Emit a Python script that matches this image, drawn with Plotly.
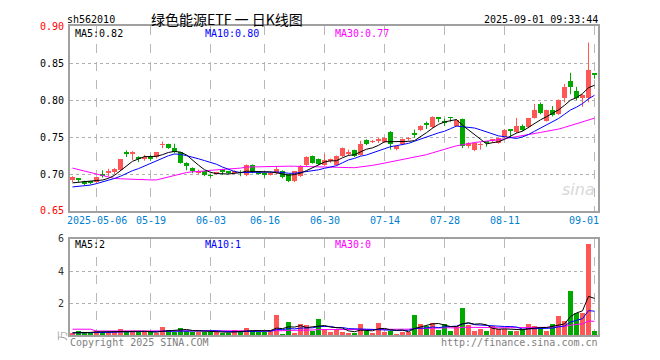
import plotly.graph_objects as go
import pandas as pd

# ---------------- data ----------------
dates = ["2025-04-25", "2025-04-28", "2025-04-29", "2025-04-30",
         "2025-05-06", "2025-05-07", "2025-05-08", "2025-05-09", "2025-05-12", "2025-05-13",
         "2025-05-14", "2025-05-15", "2025-05-16", "2025-05-19", "2025-05-20", "2025-05-21",
         "2025-05-22", "2025-05-23", "2025-05-26", "2025-05-27", "2025-05-28", "2025-05-29",
         "2025-05-30", "2025-06-03", "2025-06-04", "2025-06-05", "2025-06-06", "2025-06-09",
         "2025-06-10", "2025-06-11", "2025-06-12", "2025-06-13", "2025-06-16", "2025-06-17",
         "2025-06-18", "2025-06-19", "2025-06-20", "2025-06-23", "2025-06-24", "2025-06-25",
         "2025-06-26", "2025-06-27", "2025-06-30", "2025-07-01", "2025-07-02", "2025-07-03",
         "2025-07-04", "2025-07-07", "2025-07-08", "2025-07-09", "2025-07-10", "2025-07-11",
         "2025-07-14", "2025-07-15", "2025-07-16", "2025-07-17", "2025-07-18", "2025-07-21",
         "2025-07-22", "2025-07-23", "2025-07-24", "2025-07-25", "2025-07-28", "2025-07-29",
         "2025-07-30", "2025-07-31", "2025-08-01", "2025-08-04", "2025-08-05", "2025-08-06",
         "2025-08-07", "2025-08-08", "2025-08-11", "2025-08-12", "2025-08-13", "2025-08-14",
         "2025-08-15", "2025-08-18", "2025-08-19", "2025-08-20", "2025-08-21", "2025-08-22",
         "2025-08-25", "2025-08-26", "2025-08-27", "2025-08-28", "2025-08-29", "2025-09-01"]

opens = [0.691, 0.6925, 0.690, 0.6882, 0.689, 0.6985, 0.701, 0.702, 0.705, 0.7275,
         0.727, 0.723, 0.721, 0.724, 0.723, 0.739, 0.740, 0.735, 0.729, 0.715,
         0.708, 0.702, 0.703, 0.6975, 0.700, 0.706, 0.703, 0.702, 0.7015, 0.698,
         0.712, 0.703, 0.701, 0.699, 0.701, 0.704, 0.699, 0.690, 0.697, 0.712,
         0.724, 0.720, 0.712, 0.718, 0.712, 0.724, 0.728, 0.732, 0.726, 0.746,
         0.743, 0.745, 0.743, 0.757, 0.733, 0.740, 0.747, 0.754, 0.759, 0.7675,
         0.763, 0.777, 0.770, 0.776, 0.765, 0.774, 0.738, 0.732, 0.739, 0.7425,
         0.745, 0.742, 0.750, 0.7595, 0.756, 0.765, 0.763, 0.775, 0.794, 0.772,
         0.786, 0.781, 0.803, 0.825, 0.812, 0.803, 0.803, 0.8345]
highs = [0.697, 0.694, 0.691, 0.689, 0.696, 0.705, 0.707, 0.708, 0.720, 0.732,
         0.731, 0.724, 0.726, 0.726, 0.730, 0.744, 0.741, 0.741, 0.730, 0.716,
         0.709, 0.706, 0.704, 0.700, 0.703, 0.707, 0.704, 0.705, 0.705, 0.713,
         0.713, 0.704, 0.702, 0.703, 0.711, 0.705, 0.699, 0.704, 0.712, 0.724,
         0.725, 0.721, 0.727, 0.721, 0.725, 0.736, 0.733, 0.733, 0.745, 0.747,
         0.746, 0.749, 0.750, 0.758, 0.739, 0.748, 0.750, 0.760, 0.766, 0.771,
         0.778, 0.777, 0.775, 0.777, 0.774, 0.775, 0.743, 0.743, 0.743, 0.744,
         0.747, 0.749, 0.761, 0.760, 0.776, 0.767, 0.776, 0.795, 0.797, 0.787,
         0.792, 0.801, 0.822, 0.837, 0.818, 0.808, 0.878, 0.835]
lows = [0.689, 0.689, 0.685, 0.686, 0.687, 0.695, 0.697, 0.700, 0.704, 0.723,
        0.719, 0.716, 0.718, 0.718, 0.721, 0.735, 0.734, 0.728, 0.714, 0.705,
        0.701, 0.699, 0.697, 0.695, 0.699, 0.699, 0.700, 0.700, 0.697, 0.697,
        0.701, 0.699, 0.695, 0.698, 0.700, 0.694, 0.689, 0.689, 0.696, 0.711,
        0.714, 0.712, 0.711, 0.715, 0.711, 0.723, 0.725, 0.723, 0.725, 0.739,
        0.742, 0.742, 0.742, 0.733, 0.732, 0.739, 0.745, 0.749, 0.758, 0.761,
        0.762, 0.770, 0.765, 0.771, 0.764, 0.735, 0.735, 0.731, 0.733, 0.737,
        0.742, 0.741, 0.749, 0.749, 0.755, 0.758, 0.762, 0.775, 0.781, 0.771,
        0.778, 0.780, 0.797, 0.808, 0.800, 0.791, 0.797, 0.829]
closes = [0.695, 0.692, 0.686, 0.688, 0.695, 0.698, 0.704, 0.706, 0.720, 0.727,
          0.729, 0.720, 0.722, 0.720, 0.729, 0.740, 0.735, 0.729, 0.715, 0.710,
          0.703, 0.703, 0.698, 0.697, 0.702, 0.702, 0.701, 0.703, 0.701, 0.712,
          0.702, 0.700, 0.699, 0.701, 0.706, 0.696, 0.690, 0.703, 0.711, 0.723,
          0.715, 0.713, 0.719, 0.719, 0.724, 0.735, 0.729, 0.724, 0.740, 0.740,
          0.744, 0.746, 0.748, 0.740, 0.738, 0.747, 0.748, 0.753, 0.765, 0.767,
          0.777, 0.774, 0.7695, 0.7755, 0.773, 0.738, 0.742, 0.742, 0.740, 0.742,
          0.746, 0.748, 0.759, 0.759, 0.765, 0.759, 0.775, 0.786, 0.782, 0.786,
          0.780, 0.800, 0.817, 0.817, 0.803, 0.807, 0.840, 0.834]
volumes = [0.15, 0.25, 0.20, 0.15, 0.28, 0.20, 0.20, 0.20, 0.40, 0.20,
           0.20, 0.20, 0.20, 0.20, 0.12, 0.52, 0.33, 0.20, 0.45, 0.27,
           0.20, 0.20, 0.20, 0.20, 0.20, 0.15, 0.15, 0.30, 0.25, 0.45,
           0.27, 0.23, 0.20, 0.27, 1.23, 0.10, 0.80, 0.12, 0.72, 0.63,
           0.27, 1.00, 0.40, 0.20, 0.39, 0.22, 0.13, 0.13, 0.70, 0.27,
           0.13, 0.77, 0.23, 0.27, 0.10, 0.23, 0.23, 1.23, 0.70, 0.60,
           0.77, 0.33, 0.70, 0.27, 0.57, 1.67, 0.65, 0.27, 0.38, 0.27,
           0.55, 0.38, 0.38, 0.27, 0.27, 0.38, 0.70, 0.60, 0.43, 0.27,
           0.70, 1.20, 0.90, 2.74, 1.37, 1.37, 5.71, 0.28]

ma5_head = [0.688, 0.689, 0.690, 0.690]
ma10_head = [0.6825, 0.683, 0.684, 0.685, 0.687, 0.689, 0.692, 0.694, 0.697]
ma30_head = [0.708, 0.706, 0.703, 0.701, 0.699, 0.697, 0.695, 0.694, 0.6935, 0.693,
             0.6925, 0.692, 0.692, 0.692, 0.692, 0.694, 0.697, 0.699, 0.701, 0.702,
             0.703, 0.703, 0.704, 0.705, 0.7055, 0.706, 0.707, 0.7075, 0.708]
vma5_head = [0.15, 0.15, 0.16, 0.17]
vma10_head = [0.14, 0.14, 0.15, 0.15, 0.16, 0.16, 0.17, 0.18, 0.20]
vma30_head = [0.37, 0.37, 0.37, 0.37, 0.26, 0.26, 0.25, 0.25, 0.25, 0.25,
              0.25, 0.25, 0.25, 0.25, 0.24, 0.24, 0.24, 0.24, 0.24, 0.24,
              0.24, 0.24, 0.24, 0.24, 0.24, 0.24, 0.24, 0.24, 0.24]

tick_idx = [4, 13, 23, 32, 42, 52, 62, 72, 87]
tick_labels = ["2025-05-06", "05-19", "06-03", "06-16", "06-30", "07-14", "07-28", "08-11", "09-01"]
price_ticks = [0.65, 0.70, 0.75, 0.80, 0.85, 0.90]
price_tick_colors = ["#ff0000", "#000000", "#000000", "#000000", "#000000", "#ff0000"]
vol_ticks = [2, 4, 6]

# ---------------- derived ----------------
def moving(values, n, head):
    s = pd.Series(values).rolling(n).mean()
    return list(head) + list(s.iloc[len(head):])

ma5 = moving(closes, 5, ma5_head)
ma10 = moving(closes, 10, ma10_head)
ma30 = moving(closes, 30, ma30_head)
vma5 = moving(volumes, 5, vma5_head)
vma10 = moving(volumes, 10, vma10_head)
vma30 = moving(volumes, 30, vma30_head)

RED = "#ff5656"
GREEN = "#00a800"
n = len(closes)
idx = list(range(n))
up = [c > o for o, c in zip(opens, closes)]
cols = [RED if u else GREEN for u in up]
body_base = [min(o, c) for o, c in zip(opens, closes)]
body_h = [max(abs(c - o), 0.0011) for o, c in zip(opens, closes)]

FONT = "DejaVu Sans Mono"
fig = go.Figure()

# wicks
for colr, flag in ((RED, True), (GREEN, False)):
    wx, wy = [], []
    for i in idx:
        if up[i] == flag:
            wx += [i, i, None]
            wy += [lows[i], highs[i], None]
    fig.add_trace(go.Scatter(x=wx, y=wy, mode="lines", line=dict(color=colr, width=1),
                             hoverinfo="skip", xaxis="x", yaxis="y"))
# bodies
fig.add_trace(go.Bar(x=idx, y=body_h, base=body_base, width=0.83, marker=dict(color=cols, line=dict(width=0)),
                     xaxis="x", yaxis="y"))
# price MAs
for ser, colr in ((ma30, "#ff00ff"), (ma10, "#0000ff"), (ma5, "#000000")):
    fig.add_trace(go.Scatter(x=idx, y=ser, mode="lines", line=dict(color=colr, width=1),
                             xaxis="x", yaxis="y"))
# volume
fig.add_trace(go.Bar(x=idx, y=volumes, width=0.83, marker=dict(color=cols, line=dict(width=0)),
                     xaxis="x2", yaxis="y2"))
for ser, colr in ((vma30, "#ff00ff"), (vma10, "#0000ff"), (vma5, "#000000")):
    fig.add_trace(go.Scatter(x=idx, y=ser, mode="lines", line=dict(color=colr, width=1),
                             xaxis="x2", yaxis="y2"))

W, H = 660, 360
xl, xr = 70 / W, 598 / W
xrange = [-0.4167, n - 0.4167]
axis_common = dict(showline=True, mirror=True, linecolor="#a0a0a0", linewidth=2, zeroline=False)

fig.update_layout(
    width=W, height=H, margin=dict(l=0, r=0, t=0, b=0),
    paper_bgcolor="white", plot_bgcolor="white", showlegend=False, bargap=0,
    font=dict(family=FONT, size=10, color="#000"),
    xaxis=dict(domain=[xl, xr], range=xrange, tickvals=tick_idx, ticktext=[""] * len(tick_idx),
               showgrid=True, gridcolor="#b8b8b8", griddash="dash", gridwidth=1, ticks="",
               anchor="y", **axis_common),
    yaxis=dict(domain=[(H - 212) / H, (H - 21) / H], range=[0.65, 0.90], tickvals=price_ticks,
               ticktext=[f'<span style="color:{c}">{v:.2f}</span>' for v, c in zip(price_ticks, price_tick_colors)],
               showgrid=True, gridcolor="#b0b0b0",
               griddash="dot", gridwidth=1, ticks="", tickfont=dict(family=FONT, size=10, color="#000"),
               anchor="x", ticklabelstandoff=2, **axis_common),
    xaxis2=dict(domain=[xl, xr], range=xrange, tickvals=tick_idx, showticklabels=False,
                showgrid=True, gridcolor="#b8b8b8", griddash="dash", gridwidth=1, ticks="",
                anchor="y2", **axis_common),
    yaxis2=dict(domain=[(H - 340.5) / H, (H - 241) / H], range=[0, 6], tickvals=vol_ticks,
                ticktext=[str(v) for v in vol_ticks], showgrid=True, gridcolor="#b0b0b0",
                griddash="dot", gridwidth=1, ticks="", tickfont=dict(family=FONT, size=10, color="#333"),
                anchor="x2", ticklabelstandoff=2, **axis_common),
)

ann = []
def txt(x, y, s, color="#000", size=10, anchor="left", family=FONT, **kw):
    ann.append(dict(x=x / W, y=1 - y / H, xref="paper", yref="paper", text=s, showarrow=False,
                    xanchor=anchor, yanchor="middle", borderpad=0,
                    font=dict(family=family, size=size, color=color), **kw))

txt(66, 14, "sh562010")
txt(150, 13, "绿色能源ETF 一 日K线图", size=14, family="Noto Sans CJK SC")
txt(599, 14, "2025-09-01 09:33:44", anchor="right")
txt(74, 28, "MA5:0.82")
txt(204, 28, "MA10:0.80", color="#0000ff")
txt(334, 28, "MA30:0.77", color="#ff00ff")
txt(74, 247, "MA5:2")
txt(204, 247, "MA10:1", color="#0000ff")
txt(334, 247, "MA30:0", color="#ff00ff")
txt(69, 348, "Copyright 2025 SINA.COM", color="#808080")
txt(599, 348, "http://finance.sina.com.cn", color="#808080", anchor="right")
txt(62, 341, "万", color="#a0a0a0", size=10, family="Noto Sans CJK SC", anchor="center", textangle=-90)
txt(596, 190, "<i>sina</i>", color="#d8d8d8", size=16, family="DejaVu Sans", anchor="right")

# date labels under price panel
for k, (i, lab) in enumerate(zip(tick_idx, tick_labels)):
    last = k == len(tick_idx) - 1
    ann.append(dict(x=i, y=0.65, xref="x", yref="y", text=lab, showarrow=False,
                    xanchor="right" if last else "center", yanchor="top", yshift=-2,
                    xshift=6 if last else 0,
                    font=dict(family=FONT, size=10, color="#0080d0")))

fig.update_layout(annotations=ann)
fig.write_html("out.html", config={"displayModeBar": False},
               post_script="document.body.style.margin='0';document.body.style.overflow='hidden';")
